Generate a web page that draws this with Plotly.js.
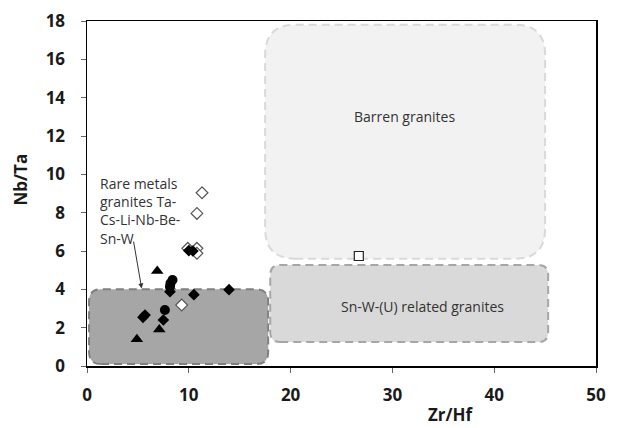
<!DOCTYPE html>
<html><head><meta charset="utf-8">
<script src="https://cdn.plot.ly/plotly-3.0.1.min.js"></script>
<style>html,body{margin:0;padding:0;background:#fff;}#chart{width:618px;height:428px;}</style>
</head><body><div id="chart"></div>
<script>
// Data (Zr/Hf, Nb/Ta)
const openDiamondX = [11.3, 10.8, 9.9, 10.8, 10.8, 9.3];
const openDiamondY = [9.04, 7.96, 6.14, 6.14, 5.88, 3.18];
const filledDiamondX = [10.0, 10.4, 8.15, 10.5, 13.95, 5.7, 5.5, 7.5];
const filledDiamondY = [6.02, 6.0, 3.88, 3.72, 3.98, 2.66, 2.54, 2.4];
const circleX = [8.4, 8.2, 8.15, 7.65];
const circleY = [4.49, 4.31, 4.14, 2.92];
const triangleX = [6.9, 7.1, 4.9];
const triangleY = [4.96, 1.91, 1.39];
const squareX = [26.7];
const squareY = [5.74];

// Tick labels
const xTicks = [0, 10, 20, 30, 40, 50];
const yTicks = [0, 2, 4, 6, 8, 10, 12, 14, 16, 18];

// Field regions [x0, x1, y0, y1]
const rareMetalsField = [0.2, 17.8, 0.1, 4.0];
const barrenField = [17.5, 45.0, 5.6, 17.8];
const snwField = [18.0, 45.3, 1.25, 5.27];
const fieldLabels = ["Barren granites", "Sn-W-(U) related granites", "Rare metals<br>granites Ta-<br>Cs-Li-Nb-Be-<br>Sn-W"];

const xRange = [0, 50], yRange = [0, 18];
const plotW = 509, plotH = 345;
const xUnit = (xRange[1]-xRange[0])/plotW, yUnit = (yRange[1]-yRange[0])/plotH;

function rounded(b, rpx) {
  const [x0,x1,y0,y1] = b; const rx = rpx*xUnit, ry = rpx*yUnit;
  return `M${x0+rx},${y0} L${x1-rx},${y0} Q${x1},${y0} ${x1},${y0+ry} L${x1},${y1-ry} Q${x1},${y1} ${x1-rx},${y1} L${x0+rx},${y1} Q${x0},${y1} ${x0},${y1-ry} L${x0},${y0+ry} Q${x0},${y0} ${x0+rx},${y0} Z`;
}

const mk = (x, y, symbol, size, open) => ({
  x, y, type: 'scatter', mode: 'markers', hoverinfo: 'skip',
  marker: {symbol, size, color: open ? '#ffffff' : '#000000', line: {color: open ? '#555555' : '#000000', width: open ? 1.2 : 0}}
});

const traces = [
  mk(openDiamondX, openDiamondY, 'diamond', 9, true),
  mk(filledDiamondX, filledDiamondY, 'diamond', 9, false),
  mk(circleX, circleY, 'circle', 10, false),
  mk(triangleX, triangleY, 'triangle-up', 11, false),
  mk(squareX, squareY, 'square', 9, true)
];
traces[4].marker.line.color = '#222';

const font = 'Open Sans, Liberation Sans, sans-serif';
const tickFont = {size: 17, family: font, color: '#1a1a1a', weight: 'bold'};
const bold = v => '<b>' + v + '</b>';
const layout = {
  width: 618, height: 428, showlegend: false,
  margin: {l: 87, r: 22, t: 21, b: 62},
  paper_bgcolor: '#fff', plot_bgcolor: '#fff',
  font: {family: font, color: '#222'},
  xaxis: {range: xRange, tickmode: 'array', tickvals: xTicks, ticktext: xTicks.map(bold), showgrid: false, zeroline: false, showline: true, linecolor: '#000', linewidth: 1.5, mirror: true,
          ticks: 'outside', ticklen: 5, tickcolor: '#666', tickfont: tickFont, ticklabelstandoff: 8},
  yaxis: {range: yRange, tickmode: 'array', tickvals: yTicks, ticktext: yTicks.map(bold), showgrid: false, zeroline: false, showline: true, linecolor: '#000', linewidth: 1.5, mirror: true,
          ticks: 'outside', ticklen: 5, tickcolor: '#666', tickfont: tickFont, ticklabelstandoff: 12},
  shapes: [
    {type: 'path', path: rounded(barrenField, 30), xref: 'x', yref: 'y', layer: 'below', fillcolor: '#f2f2f2', line: {color: '#d9d9d9', width: 2, dash: '8px,5px'}},
    {type: 'path', path: rounded(snwField, 10), xref: 'x', yref: 'y', layer: 'below', fillcolor: '#d9d9d9', line: {color: '#a6a6a6', width: 2, dash: '8px,5px'}},
    {type: 'path', path: rounded(rareMetalsField, 12), xref: 'x', yref: 'y', layer: 'below', fillcolor: '#a6a6a6', line: {color: '#808080', width: 2, dash: '8px,5px'}}
  ],
  annotations: [
    {x: 31.2, y: 13.0, xref: 'x', yref: 'y', text: fieldLabels[0], showarrow: false, font: {size: 14, color: '#333', family: font}},
    {x: 33.0, y: 3.13, xref: 'x', yref: 'y', text: fieldLabels[1], showarrow: false, font: {size: 14, color: '#333', family: font}},
    {x: 1.1, y: 10.1, xref: 'x', yref: 'y', text: fieldLabels[2], showarrow: false, xanchor: 'left', yanchor: 'top', align: 'left', font: {size: 14, color: '#333', family: font}},
    {x: 5.37, y: 4.05, xref: 'x', yref: 'y', ax: 4.55, ay: 6.57, axref: 'x', ayref: 'y', text: '', showarrow: true, arrowhead: 2, arrowsize: 1, arrowwidth: 1, arrowcolor: '#333'},
    {x: 0.715, y: -0.142, xref: 'paper', yref: 'paper', xanchor: 'center', yanchor: 'middle', text: '<b>Zr/Hf</b>', showarrow: false, font: {size: 17, color: '#1a1a1a', family: font}},
    {x: -0.13, y: 0.54, xref: 'paper', yref: 'paper', xanchor: 'center', yanchor: 'middle', text: '<b>Nb/Ta</b>', textangle: -90, showarrow: false, font: {size: 17, color: '#1a1a1a', family: font}}
  ]
};
Plotly.newPlot('chart', traces, layout, {displayModeBar: false, staticPlot: true});
</script></body></html>
